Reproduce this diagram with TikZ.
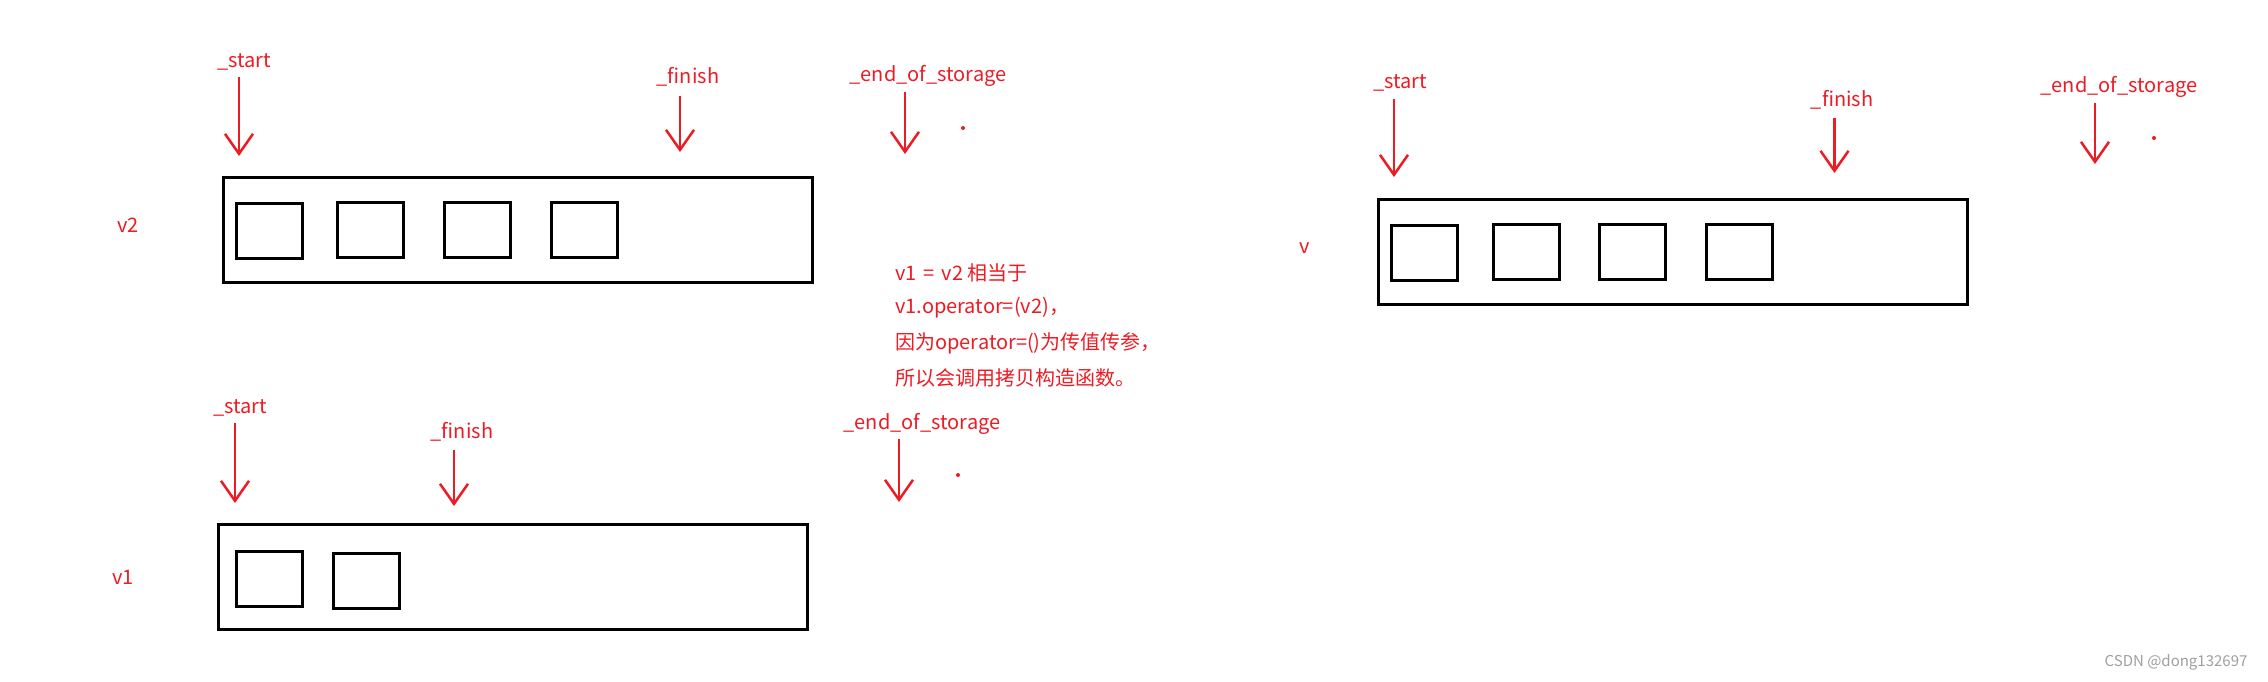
\documentclass[tikz,border=0pt]{standalone}
\usepackage{fontspec}
\setmainfont{Noto Sans CJK SC}
\usetikzlibrary{arrows.meta}
\definecolor{pen}{RGB}{237,28,36}
\definecolor{mark}{RGB}{160,160,160}
\tikzset{
  lbl/.style={text=pen, inner sep=0pt, font=\fontsize{20}{24}\selectfont},
  note/.style={text=pen, inner sep=0pt, anchor=west, font=\fontsize{20}{24}\selectfont},
  ptr/.style={draw=pen, line width=2.5pt, -{Straight Barb[length=20pt,width=28pt,line width=2.5pt]}},
  outer/.style={draw=black, line width=3pt, inner sep=0pt, minimum width=589pt, minimum height=105pt},
  cell/.style={draw=black, line width=3pt, inner sep=0pt, minimum width=66pt, minimum height=55pt},
  speck/.style={fill=pen, circle, inner sep=0pt, minimum size=4pt}
}
\begin{document}
\begin{tikzpicture}[x=1pt,y=-1pt]
\useasboundingbox[fill=white] (0,0) rectangle (2268,681);
% ---------- v2 ----------
\node[lbl] (v2name) at (128,225) {v2};
\node[outer] (v2box) at (518,229.5) {};
\node[cell] (v2c1) at (269,230.5) {};
\node[cell] (v2c2) at (370.5,229.5) {};
\node[cell] (v2c3) at (477,229.5) {};
\node[cell] (v2c4) at (584,229.5) {};
\node[lbl] (v2s) at (244,62) {\_start};
\node[lbl] (v2f) at (688,77) {\_finish};
\node[lbl] (v2e) at (928,76) {\_end\_of\_storage};
\coordinate (v2sa) at (239,77); \coordinate (v2sb) at (239,156);
\coordinate (v2fa) at (680,96); \coordinate (v2fb) at (680,152);
\coordinate (v2ea) at (905,92); \coordinate (v2eb) at (905,154);
\draw[ptr] (v2sa) -- (v2sb);
\draw[ptr] (v2fa) -- (v2fb);
\draw[ptr] (v2ea) -- (v2eb);
\node[speck] (v2dot) at (963,128) {};
% ---------- v1 ----------
\node[lbl] (v1name) at (123,577) {v1};
\node[outer] (v1box) at (512.5,576.5) {};
\node[cell] (v1c1) at (269,578.5) {};
\node[cell] (v1c2) at (366,580.5) {};
\node[lbl] (v1s) at (240,408) {\_start};
\node[lbl] (v1f) at (462,432) {\_finish};
\node[lbl] (v1e) at (922,424) {\_end\_of\_storage};
\coordinate (v1sa) at (235,423); \coordinate (v1sb) at (235,503);
\coordinate (v1fa) at (454,450); \coordinate (v1fb) at (454,506);
\coordinate (v1ea) at (899,439); \coordinate (v1eb) at (899,502);
\draw[ptr] (v1sa) -- (v1sb);
\draw[ptr] (v1fa) -- (v1fb);
\draw[ptr] (v1ea) -- (v1eb);
\node[speck] (v1dot) at (958,475) {};
% ---------- v ----------
\node[lbl] (vname) at (1305,248) {v};
\node[outer] (vbox) at (1672.5,252) {};
\node[cell] (vc1) at (1424,252.5) {};
\node[cell] (vc2) at (1526,251.5) {};
\node[cell] (vc3) at (1632,251.5) {};
\node[cell] (vc4) at (1739,251.5) {};
\node[lbl] (vs) at (1400,83) {\_start};
\node[lbl] (vf) at (1842,100) {\_finish};
\node[lbl] (ve) at (2119,87) {\_end\_of\_storage};
\coordinate (vsa) at (1394,99); \coordinate (vsb) at (1394,177);
\coordinate (vfa) at (1834.5,118); \coordinate (vfb) at (1834.5,173);
\coordinate (vea) at (2095,103); \coordinate (veb) at (2095,164);
\draw[ptr] (vsa) -- (vsb);
\draw[ptr] (vfa) -- (vfb);
\draw[ptr] (vea) -- (veb);
\node[speck] (vdot) at (2154,138) {};
% ---------- note ----------
\node[note] (n1) at (895,273) {v1\hspace{7pt}=\hspace{7pt}v2 相当于};
\node[note] (n2) at (895,308) {v1.operator=(v2)，};
\node[note] (n3) at (895,343) {因为operator=()为传值传参，};
\node[note] (n4) at (895,378) {所以会调用拷贝构造函数。};
% ---------- watermark ----------
\node[text=mark, inner sep=0pt, font=\fontsize{15}{18}\selectfont] (wm) at (2176,662) {CSDN @dong132697};
\end{tikzpicture}
\end{document}
